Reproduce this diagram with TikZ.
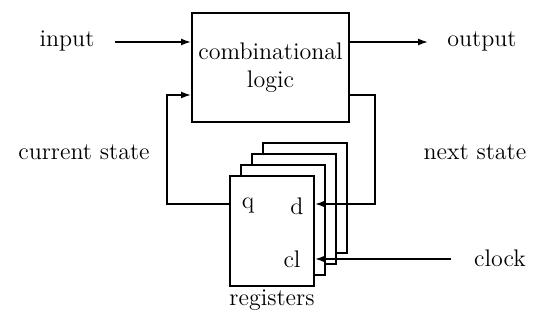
\documentclass[tikz,border=0pt]{standalone}
\usetikzlibrary{arrows.meta}

\tikzset{
  box/.style={draw,line width=1pt,fill=white,inner sep=0pt,
    minimum width=42pt,minimum height=55pt},
  wire/.style={line width=0.8pt},
  arr/.style={wire,-{Latex[length=5pt,width=3.5pt]}}
}

\begin{document}
\begin{tikzpicture}[x=0.5pt,y=-0.5pt,font=\large]
    \useasboundingbox (0,0) rectangle (552,324);
    % combinational part
    \node[box,minimum width=78.5pt,minimum height=54.5pt,align=center] (comb) at (270.5,67.5) {combinational\\logic};
    % registers, back to front
    \node[box] (regd) at (305,198) {};
    \node[box] (regc) at (294,209) {};
    \node[box] (regb) at (283,220) {};
    \node[box] (rega) at (272,231) {};
    \node (q) at (248,206) {q};
    \node (d) at (297,206) {d};
    \node (cl) at (292,259) {cl};
    \node (registers) at (272,300) {registers};
    % outer labels
    \node (input) at (67,41) {input};
    \node (output) at (482,41) {output};
    \node (current) at (84,152) {current state};
    \node (next) at (475,152) {next state};
    \node (clock) at (500,258) {clock};
    \coordinate (in) at (115,42);
    \coordinate (out) at (428,42);
    \coordinate (fbl) at (167,95);
    \coordinate (fbr) at (375,95);
    \coordinate (qrow) at (167,204);
    \coordinate (drow) at (375,204);
    \coordinate (ck) at (451,259);
    % wires
    \draw[arr] (in) -- (in -| comb.west);
    \draw[arr] (out -| comb.east) -- (out);
    \draw[arr] (rega.west |- qrow) -- (qrow) -- (fbl) -- (fbl -| comb.west);
    \draw[arr] (fbr -| comb.east) -- (fbr) -- (drow) -- (rega.east |- drow);
    \draw[arr] (ck) -- (ck -| rega.east);
\end{tikzpicture}
\end{document}
